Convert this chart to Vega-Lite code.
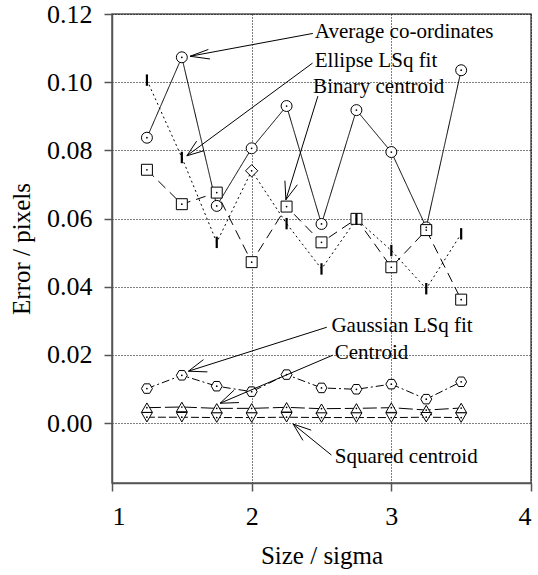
{
  "$schema": "https://vega.github.io/schema/vega-lite/v6.json",
  "width": 419,
  "height": 469,
  "autosize": {"type": "none"},
  "padding": {"left": 112, "top": 14, "right": 7, "bottom": 92},
  "background": "white",
  "config": {
    "font": "Liberation Serif",
    "view": {"stroke": "#555", "strokeWidth": 1.5},
    "axis": {
      "labelFont": "Liberation Serif",
      "titleFont": "Liberation Serif",
      "labelFontSize": 26,
      "titleFontSize": 25,
      "titleFontWeight": "normal",
      "labelColor": "black",
      "titleColor": "black",
      "domainColor": "#555",
      "domainWidth": 1.5,
      "tickColor": "#555",
      "tickWidth": 1.5,
      "tickSize": 8,
      "grid": true,
      "gridColor": "black",
      "gridOpacity": 1,
      "gridDash": [1, 2],
      "gridWidth": 1
    }
  },
  "datasets": {
    "series": [
      {"x": 1.25, "y": 0.0837, "s": "Average"},
      {"x": 1.5, "y": 0.1073, "s": "Average"},
      {"x": 1.75, "y": 0.0637, "s": "Average"},
      {"x": 2.0, "y": 0.0806, "s": "Average"},
      {"x": 2.25, "y": 0.093, "s": "Average"},
      {"x": 2.5, "y": 0.0584, "s": "Average"},
      {"x": 2.75, "y": 0.0918, "s": "Average"},
      {"x": 3.0, "y": 0.0795, "s": "Average"},
      {"x": 3.25, "y": 0.0574, "s": "Average"},
      {"x": 3.5, "y": 0.1035, "s": "Average"},
      {"x": 1.25, "y": 0.1006, "s": "Ellipse"},
      {"x": 1.5, "y": 0.0779, "s": "Ellipse"},
      {"x": 1.75, "y": 0.053, "s": "Ellipse"},
      {"x": 2.0, "y": 0.074, "s": "Ellipse"},
      {"x": 2.25, "y": 0.0585, "s": "Ellipse"},
      {"x": 2.5, "y": 0.0452, "s": "Ellipse"},
      {"x": 2.75, "y": 0.0598, "s": "Ellipse"},
      {"x": 3.0, "y": 0.0506, "s": "Ellipse"},
      {"x": 3.25, "y": 0.0394, "s": "Ellipse"},
      {"x": 3.5, "y": 0.0555, "s": "Ellipse"},
      {"x": 1.25, "y": 0.0743, "s": "Binary"},
      {"x": 1.5, "y": 0.0642, "s": "Binary"},
      {"x": 1.75, "y": 0.0676, "s": "Binary"},
      {"x": 2.0, "y": 0.0472, "s": "Binary"},
      {"x": 2.25, "y": 0.0635, "s": "Binary"},
      {"x": 2.5, "y": 0.053, "s": "Binary"},
      {"x": 2.75, "y": 0.0599, "s": "Binary"},
      {"x": 3.0, "y": 0.0457, "s": "Binary"},
      {"x": 3.25, "y": 0.0566, "s": "Binary"},
      {"x": 3.5, "y": 0.0362, "s": "Binary"},
      {"x": 1.25, "y": 0.0101, "s": "Gaussian"},
      {"x": 1.5, "y": 0.014, "s": "Gaussian"},
      {"x": 1.75, "y": 0.0108, "s": "Gaussian"},
      {"x": 2.0, "y": 0.0092, "s": "Gaussian"},
      {"x": 2.25, "y": 0.0142, "s": "Gaussian"},
      {"x": 2.5, "y": 0.0103, "s": "Gaussian"},
      {"x": 2.75, "y": 0.0099, "s": "Gaussian"},
      {"x": 3.0, "y": 0.0114, "s": "Gaussian"},
      {"x": 3.25, "y": 0.007, "s": "Gaussian"},
      {"x": 3.5, "y": 0.0121, "s": "Gaussian"},
      {"x": 1.25, "y": 0.0045, "s": "Centroid"},
      {"x": 1.5, "y": 0.0047, "s": "Centroid"},
      {"x": 1.75, "y": 0.0043, "s": "Centroid"},
      {"x": 2.0, "y": 0.0043, "s": "Centroid"},
      {"x": 2.25, "y": 0.0046, "s": "Centroid"},
      {"x": 2.5, "y": 0.0042, "s": "Centroid"},
      {"x": 2.75, "y": 0.0043, "s": "Centroid"},
      {"x": 3.0, "y": 0.0045, "s": "Centroid"},
      {"x": 3.25, "y": 0.0038, "s": "Centroid"},
      {"x": 3.5, "y": 0.0044, "s": "Centroid"},
      {"x": 1.25, "y": 0.0017, "s": "Squared"},
      {"x": 1.5, "y": 0.0017, "s": "Squared"},
      {"x": 1.75, "y": 0.0016, "s": "Squared"},
      {"x": 2.0, "y": 0.0016, "s": "Squared"},
      {"x": 2.25, "y": 0.0017, "s": "Squared"},
      {"x": 2.5, "y": 0.0016, "s": "Squared"},
      {"x": 2.75, "y": 0.0016, "s": "Squared"},
      {"x": 3.0, "y": 0.0016, "s": "Squared"},
      {"x": 3.25, "y": 0.0017, "s": "Squared"},
      {"x": 3.5, "y": 0.0016, "s": "Squared"}
    ],
    "labels": [
      {"x": 2.452, "y": 0.113, "t": "Average co-ordinates"},
      {"x": 2.452, "y": 0.1045, "t": "Ellipse LSq fit"},
      {"x": 2.44, "y": 0.0969, "t": "Binary centroid"},
      {"x": 2.571, "y": 0.0267, "t": "Gaussian LSq fit"},
      {"x": 2.595, "y": 0.0189, "t": "Centroid"},
      {"x": 2.595, "y": -0.0118, "t": "Squared centroid"}
    ],
    "arrows": [
      {"x": 1.559, "y": 0.1076, "x2": 2.438, "y2": 0.1143},
      {"x": 1.559, "y": 0.1076, "x2": 1.69, "y2": 0.1096},
      {"x": 1.559, "y": 0.1076, "x2": 1.702, "y2": 0.1068},
      {"x": 1.536, "y": 0.0784, "x2": 2.436, "y2": 0.1056},
      {"x": 1.536, "y": 0.0784, "x2": 1.659, "y2": 0.0799},
      {"x": 1.536, "y": 0.0784, "x2": 1.606, "y2": 0.0827},
      {"x": 2.245, "y": 0.0655, "x2": 2.474, "y2": 0.0959},
      {"x": 2.245, "y": 0.0655, "x2": 2.327, "y2": 0.0699},
      {"x": 2.245, "y": 0.0655, "x2": 2.238, "y2": 0.0711},
      {"x": 1.547, "y": 0.0152, "x2": 2.538, "y2": 0.0281},
      {"x": 1.547, "y": 0.0152, "x2": 1.683, "y2": 0.015},
      {"x": 1.547, "y": 0.0152, "x2": 1.655, "y2": 0.0186},
      {"x": 1.774, "y": 0.0058, "x2": 2.581, "y2": 0.0199},
      {"x": 1.774, "y": 0.0058, "x2": 1.909, "y2": 0.006},
      {"x": 1.774, "y": 0.0058, "x2": 1.873, "y2": 0.0096},
      {"x": 2.297, "y": -0.0003, "x2": 2.571, "y2": -0.0094},
      {"x": 2.297, "y": -0.0003, "x2": 2.367, "y2": -0.0051},
      {"x": 2.297, "y": -0.0003, "x2": 2.426, "y2": -0.0021}
    ]
  },
  "layer": [
    {
      "data": {"name": "series"},
      "mark": {"type": "line", "color": "black", "strokeWidth": 1},
      "encoding": {
        "x": {
          "field": "x", "type": "quantitative",
          "scale": {"domain": [1, 4], "nice": false, "zero": false},
          "axis": {"values": [1, 2, 3, 4], "format": "d", "title": "Size / sigma", "labelPadding": 12, "titlePadding": 14}
        },
        "y": {
          "field": "y", "type": "quantitative",
          "scale": {"domain": [-0.0176, 0.12], "nice": false, "zero": false},
          "axis": {"values": [0, 0.02, 0.04, 0.06, 0.08, 0.1, 0.12], "format": ".2f", "title": "Error / pixels", "labelPadding": 12, "titlePadding": 12}
        },
        "detail": {"field": "s"},
        "strokeDash": {
          "field": "s", "type": "nominal", "legend": null,
          "scale": {
            "domain": ["Average", "Ellipse", "Binary", "Gaussian", "Centroid", "Squared"],
            "range": [[1, 0], [2, 3], [10, 6], [8, 3, 2, 3], [14, 4], [8, 3]]
          }
        }
      }
    },
    {
      "data": {"name": "series"},
      "transform": [{"filter": "datum.s !== 'Ellipse'"}],
      "mark": {"type": "point", "filled": false, "fill": "white", "fillOpacity": 1, "stroke": "black", "strokeWidth": 1, "size": 120, "opacity": 1},
      "encoding": {
        "x": {"field": "x", "type": "quantitative"},
        "y": {"field": "y", "type": "quantitative"},
        "shape": {
          "field": "s", "type": "nominal", "legend": null,
          "scale": {
            "domain": ["Average", "Binary", "Gaussian", "Centroid", "Squared"],
            "range": ["circle", "square", "M-1,0L-0.5,-0.866L0.5,-0.866L1,0L0.5,0.866L-0.5,0.866Z", "triangle-up", "triangle-down"]
          }
        }
      }
    },
    {
      "data": {"name": "series"},
      "transform": [{"filter": "datum.s === 'Ellipse' && datum.x !== 2"}],
      "mark": {"type": "point", "shape": "M0,-1L0,1", "filled": false, "stroke": "black", "strokeWidth": 2.2, "size": 130, "opacity": 1},
      "encoding": {
        "x": {"field": "x", "type": "quantitative"},
        "y": {"field": "y", "type": "quantitative"}
      }
    },
    {
      "data": {"name": "series"},
      "transform": [{"filter": "datum.s === 'Ellipse' && datum.x === 2"}],
      "mark": {"type": "point", "shape": "diamond", "filled": false, "fill": "white", "fillOpacity": 1, "stroke": "black", "strokeWidth": 1, "size": 150, "opacity": 1},
      "encoding": {
        "x": {"field": "x", "type": "quantitative"},
        "y": {"field": "y", "type": "quantitative"}
      }
    },
    {
      "data": {"name": "series"},
      "transform": [{"filter": "datum.s !== 'Ellipse' || datum.x === 2"}],
      "mark": {"type": "point", "shape": "circle", "filled": true, "color": "black", "size": 3, "opacity": 1},
      "encoding": {
        "x": {"field": "x", "type": "quantitative"},
        "y": {"field": "y", "type": "quantitative"}
      }
    },
    {
      "data": {"name": "arrows"},
      "mark": {"type": "rule", "color": "black", "strokeWidth": 1},
      "encoding": {
        "x": {"field": "x", "type": "quantitative"},
        "y": {"field": "y", "type": "quantitative"},
        "x2": {"field": "x2"},
        "y2": {"field": "y2"}
      }
    },
    {
      "data": {"name": "labels"},
      "mark": {"type": "text", "align": "left", "baseline": "alphabetic", "fontSize": 21, "font": "Liberation Serif", "color": "black"},
      "encoding": {
        "x": {"field": "x", "type": "quantitative"},
        "y": {"field": "y", "type": "quantitative"},
        "text": {"field": "t"}
      }
    }
  ]
}
